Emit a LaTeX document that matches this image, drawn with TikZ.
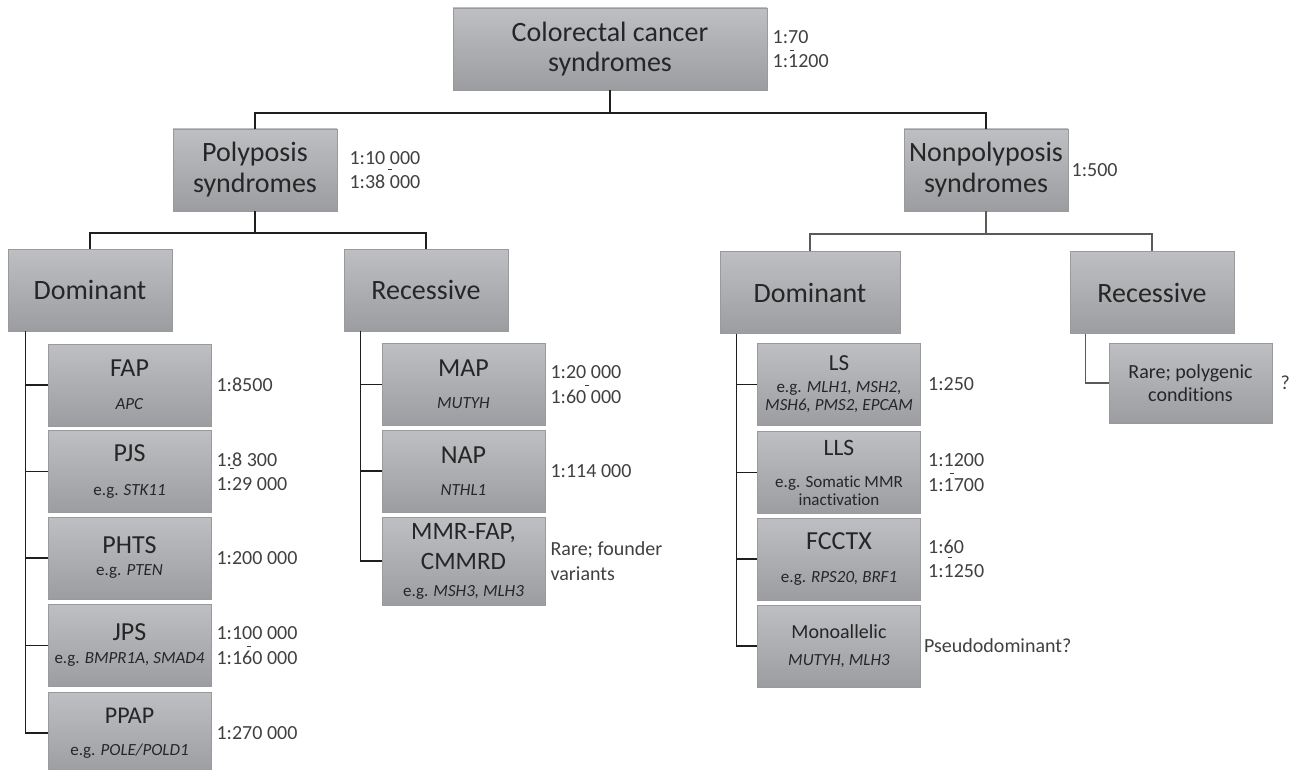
\documentclass[tikz,border=0pt]{standalone}
\usepackage{fontspec}
\setmainfont{Carlito}[Ligatures=NoCommon]
\usetikzlibrary{positioning}

\definecolor{boxtop}{HTML}{BEBFC2}
\definecolor{boxbot}{HTML}{9C9DA0}
\definecolor{boxline}{HTML}{9A9A9C}
\definecolor{inktext}{HTML}{262626}
\definecolor{freqtext}{HTML}{404040}
\definecolor{linkdark}{HTML}{1E1E1E}
\definecolor{linkgray}{HTML}{5A5A5A}

\newcommand{\ttl}[2][26]{{\fontsize{#1}{30}\selectfont #2}}
\newcommand{\gn}[1]{\textit{#1}}

\begin{document}
\begin{tikzpicture}[
    x=1pt, y=-1pt,
    box/.style={rectangle, draw=boxline, line width=0.8pt, top color=boxtop, bottom color=boxbot,
      inner sep=0pt, align=center, text=inktext, minimum width=164pt, minimum height=82pt},
    head/.style={box, font=\fontsize{28}{#1}\selectfont},
    head/.default=31,
    leaf/.style={box, minimum width=163pt, font=\fontsize{17}{#1}\selectfont},
    leaf/.default=33,
    freq/.style={inner sep=0pt, align=left, text=freqtext, font=\fontsize{20}{24.5}\selectfont},
    rangedash/.style={inner sep=0pt, fill=freqtext, minimum width=3.5pt, minimum height=0.9pt},
    link/.style={draw=linkdark, line width=1.1pt},
    linklight/.style={draw=linkgray, line width=1.1pt}
  ]
    \useasboundingbox (0,0) rectangle (1295,770);

    % upper levels
    \node[head=30, minimum width=314pt] (crc) at (610,49) {Colorectal cancer\\syndromes};
    \node[head] (poly) at (255,170) {Polyposis\\syndromes};
    \node[head] (nonpoly) at (986,170) {Nonpolyposis\\syndromes};
    \node[head] (domL) at (90,290) {Dominant};
    \node[head] (recL) at (426,290) {Recessive};
    \node[head, minimum width=180pt] (domR) at (810,292.5) {Dominant};
    \node[head] (recR) at (1152,292.5) {Recessive};

    % polyposis, dominant
    \node[leaf] (fap) at (129.5,385) {\ttl{FAP}\\\gn{APC}};
    \node[leaf=34] (pjs) at (129.5,471.5) {\ttl{PJS}\\e.g. \gn{STK11}};
    \node[leaf=22] (phts) at (129.5,558) {\ttl{PHTS}\\e.g. \gn{PTEN}};
    \node[leaf=23] (jps) at (129.5,645.5) {\ttl{JPS}\\e.g. \gn{BMPR1A, SMAD4}};
    \node[leaf=32] (ppap) at (129.5,733) {\ttl[24]{PPAP}\\e.g. \gn{POLE/POLD1}};

    % polyposis, recessive
    \node[leaf=32] (map) at (463.5,384.5) {\ttl{MAP}\\\gn{MUTYH}};
    \node[leaf=32] (nap) at (463.5,471) {\ttl{NAP}\\\gn{NTHL1}};
    \node[leaf=27, minimum height=88pt] (mmr) at (463.5,561) {\ttl[25]{MMR-FAP,}\\[3pt]\ttl[25]{CMMRD}\\e.g. \gn{MSH3, MLH3}};

    % nonpolyposis
    \node[leaf=18] (ls) at (839,384.5) {\ttl[23]{LS}\\[4pt]e.g. \gn{MLH1, MSH2,}\\\gn{MSH6, PMS2, EPCAM}};
    \node[leaf=18] (lls) at (839,472.5) {\ttl[23.5]{LLS}\\[14pt]e.g. Somatic MMR\\inactivation};
    \node[leaf] (fcctx) at (839,559) {\ttl{FCCTX}\\e.g. \gn{RPS20, BRF1}};
    \node[leaf=27] (mono) at (839,646) {\ttl[20]{Monoallelic}\\\gn{MUTYH, MLH3}};
    \node[leaf=23, minimum height=80pt] (rare) at (1190.5,383) {\ttl[20]{Rare; polygenic}\\\ttl[20]{conditions}};

    % frequencies
    \node[freq, right=5pt of crc] (crcf) {1:70\\1:1200};
    \node[freq, right=12pt of poly] (polyf) {1:10 000\\1:38 000};
    \node[freq, right=3pt of nonpoly] (nonpolyf) {1:500};
    \node[freq, right=5pt of fap] (fapf) {1:8500};
    \node[freq, right=5pt of pjs] (pjsf) {1:8 300\\1:29 000};
    \node[freq, right=5pt of phts] (phtsf) {1:200 000};
    \node[freq, right=5pt of jps] (jpsf) {1:100 000\\1:160 000};
    \node[freq, right=5pt of ppap] (ppapf) {1:270 000};
    \node[freq, right=5pt of map] (mapf) {1:20 000\\1:60 000};
    \node[freq, right=5pt of nap] (napf) {1:114 000};
    \node[freq, right=5pt of mmr] (mmrf) {Rare; founder\\variants};
    \node[freq, right=7pt of ls] (lsf) {1:250};
    \node[freq, right=7pt of lls] (llsf) {1:1200\\1:1700};
    \node[freq, right=7pt of fcctx] (fcctxf) {1:60\\1:1250};
    \node[freq, right=3pt of mono] (monof) {Pseudodominant?};
    \node[freq, right=8pt of rare] (raref) {?};

    % small range dashes
    \node[rangedash] (crcd) at (792,50) {};
    \node[rangedash] (polyd) at (390,169) {};
    \node[rangedash] (pjsd) at (232,468) {};
    \node[rangedash] (jpsd) at (249,646) {};
    \node[rangedash] (mapd) at (587,385) {};
    \node[rangedash] (llsd) at (952,473) {};
    \node[rangedash] (fcctxd) at (950,557) {};

    % tree lines
    \coordinate (split1) at (610,113);
    \draw[link] (crc.south) -- (split1);
    \draw[link] (poly.north) |- (split1) -| (nonpoly.north);
    \coordinate (split2) at (255,233);
    \draw[link] (poly.south) -- (split2);
    \draw[link] (domL.north) |- (split2) -| (recL.north);
    \coordinate (split3) at (986,234);
    \draw[linklight] (nonpoly.south) -- (split3);
    \draw[linklight] (domR.north) |- (split3) -| (recR.north);

    \coordinate (trunkDL) at ([xshift=18pt]domL.south west);
    \foreach \leafname in {fap,pjs,phts,jps,ppap}
      \draw[link] (trunkDL) |- (\leafname.west);
    \coordinate (trunkRL) at ([xshift=17pt]recL.south west);
    \foreach \leafname in {map,nap,mmr}
      \draw[link] (trunkRL) |- (\leafname.west);
    \coordinate (trunkDR) at ([xshift=17pt]domR.south west);
    \foreach \leafname in {ls,lls,fcctx,mono}
      \draw[link] (trunkDR) |- (\leafname.west);
    \coordinate (trunkRR) at ([xshift=16pt]recR.south west);
    \draw[linklight] (trunkRR) |- (rare.west);
\end{tikzpicture}
\end{document}
